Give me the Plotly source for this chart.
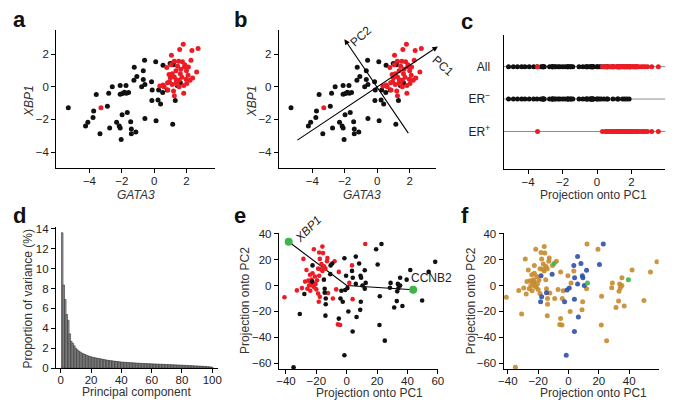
import numpy as np
import plotly.graph_objects as go

FONT = "Liberation Sans"
RED = "#ED1C24"
BLACK = "#111111"
ORANGE = "#C68A2E"
BLUE = "#2F4FA8"
GREEN = "#3DB54A"

# ---------- panel a/b data (GATA3, XBP1) ----------
erneg_gata3 = [-5.31, -4.24, -4.10, -3.78, -3.74, -3.58, -3.35, -2.89, -2.81, -2.75, -2.59, -2.32, -2.16, -2.10,
               -2.10, -2.10, -1.96, -1.84, -1.72, -1.58, -1.74, -1.98, -2.04, -1.66, -0.59, -1.23, -0.67, -1.07,
               -1.25, -0.67, -0.77, -0.57, -0.57, -1.45, -1.41, -1.13, -1.41, 0.10, 0.55, 0.99, 1.23, 1.18,
               -0.16, -0.12, 0.28, 0.53, 0.81, -0.14, 0.24, 0.40, 1.31, 1.62, 1.43, 0.12, 1.15]
erneg_xbp1 = [-1.29, -2.40, -2.18, -1.88, -1.49, -0.48, -2.87, -1.19, -0.40, -2.52, 0.00, -2.18, -2.40, -2.52,
              0.08, -0.46, -0.42, -0.34, -0.40, -0.36, 0.08, -1.72, -3.23, -1.58, 1.62, 1.19, 0.97, 0.63,
              0.40, 0.44, 0.00, 0.14, -1.94, -2.14, -2.59, -2.77, -2.87, 1.52, 1.31, 1.42, 1.52, 1.35,
              0.30, -0.20, -0.20, -0.36, -0.20, -0.85, -0.81, -1.05, -0.85, 0.24, 0.08, -2.08, -2.30]
erpos_gata3 = [1.80, 1.58, 2.34, 2.72, 1.07, 1.25, 1.52, 1.75, 1.90, 2.28, 0.78, 1.12, 1.35, 1.65, 2.00, 1.88,
               2.12, 0.92, 1.00, 1.25, 1.37, 1.55, 1.72, 1.98, 2.22, 2.63, 2.38, 0.83, 1.12, 1.35, 1.42, 1.83,
               0.35, 0.62, 0.85, 1.20, 1.25, 1.83, 0.55, -3.29, 1.05, 1.62, 2.02, 1.45, 0.95, 1.55, 2.10]
erpos_xbp1 = [2.59, 2.28, 2.22, 2.34, 1.92, 1.55, 1.55, 1.52, 1.35, 1.62, 1.17, 0.80, 0.97, 1.07, 0.97, 1.22,
              1.20, 0.75, 0.55, 0.60, 0.43, 0.40, 0.58, 0.45, 0.40, 0.90, 0.54, 0.24, 0.14, 0.24, 0.16, 0.08,
              0.04, 0.00, -0.20, -0.26, -0.56, -0.40, 0.10, -1.29, 1.35, 0.80, 0.20, 1.25, 0.30, 0.00, 0.70]

# principal axes drawn in panel b (tail, head)
pc1_arrow_x = [-5.01, 3.74]
pc1_arrow_y = [-3.33, 2.46]
pc2_arrow_x = [1.98, -2.02]
pc2_arrow_y = [-2.93, 2.91]

# ---------- panel d ----------
variance_pct = [13.6, 8.35, 6.9, 5.4, 4.8, 3.45, 2.7, 2.5, 2.25, 2.0,
                1.85, 1.72, 1.62, 1.52, 1.45, 1.38, 1.32, 1.25, 1.2, 1.15,
                1.1, 1.07, 1.04, 1.01, 0.98, 0.95, 0.92, 0.89, 0.86, 0.83,
                0.8, 0.78, 0.76, 0.74, 0.72, 0.7, 0.68, 0.66, 0.64, 0.62,
                0.61, 0.6, 0.59, 0.58, 0.57, 0.56, 0.55, 0.54, 0.53, 0.52,
                0.51, 0.5, 0.49, 0.485, 0.48, 0.47, 0.46, 0.455, 0.45, 0.44,
                0.435, 0.43, 0.42, 0.415, 0.41, 0.4, 0.395, 0.39, 0.38, 0.375,
                0.37, 0.36, 0.355, 0.35, 0.34, 0.335, 0.33, 0.32, 0.31, 0.305,
                0.3, 0.29, 0.28, 0.275, 0.27, 0.26, 0.25, 0.24, 0.235, 0.23,
                0.22, 0.21, 0.2, 0.19, 0.18, 0.17, 0.16, 0.15, 0.13, 0.1]
components = list(range(1, len(variance_pct) + 1))

# ---------- panels e/f (projection onto PC1, PC2) ----------
# er: 1 = ER+, 0 = ER- ; subtype: L (luminal), B (basal), N (normal-like)
pc1_proj = [-41.0, -32.8, -28.5, -27.4, -25.9, -25.3, -24.2, -23.5, -22.5, -21.6, -21.4, -20.5, -22.7, -23.1,
            -18.1, -18.1, -17.7, -17.1, -16.6, -16.0, -16.0, -15.6, -14.9, -14.0, -12.7, -13.0, -18.8, -18.8,
            -17.7, -18.4, -12.3, -9.1, -6.9, -5.8, -4.3, -5.2, -8.0, 3.5, 1.7, 3.9, 12.2, -26.5, -24.8, -20.9,
            -29.5, -24.0, -19.5, -20.0,
            -35.0, -30.9, -27.9, -22.5, -10.8, -9.5, -10.6, -14.5, -14.5, -13.8, -13.8, -14.0, -4.1, -3.5,
            -1.0, 0.5, -2.6, -5.2, -1.5, -0.4, 1.1, 3.9, 6.0, 8.2, 3.5, 9.1, 9.5, 6.0, 10.4, 11.9, 9.3, 8.9,
            6.5, 21.6, 25.1, 21.8, 28.9, 28.5, 33.7, 34.1, 33.3, 35.2, 33.0, 31.3, 36.7, 35.2, 41.9, 39.5,
            49.7, 54.0, 58.3, 19.4, 22.9, 20.4, 11.9, 12.5, -15.0, -22.7, 4.0, -1.5]
pc2_proj = [-9.0, -3.75, 20.5, 3.0, -2.5, 3.75, 8.25, 2.5, 9.5, 28.0, -1.25, 1.25, 0.0, 4.5,
            25.5, 7.5, 20.5, 12.5, 16.5, 11.25, 30.0, 25.0, 14.75, 13.0, 21.25, 18.75, 13.0, -6.25,
            -8.75, -12.5, -5.75, -10.0, -3.0, -30.0, -30.5, 10.5, 18.75, 15.5, 2.0, -10.5, 32.0, 12.0, 0.0, 7.0,
            -2.0, -4.0, 4.0, -3.0,
            -63.0, -22.0, -6.5, 15.5, 8.75, 17.0, 15.5, -2.5, -5.5, -10.0, -14.5, -23.25, -10.0, -4.0,
            -3.5, -2.0, -12.5, -25.5, -53.75, 7.5, -20.0, -35.5, 22.3, 17.0, 11.25, 7.5, 6.0, 1.25, 0.0, -2.5,
            -12.5, -18.75, -24.25, -30.5, -42.5, -8.25, 2.0, -1.75, 1.25, -2.0, -4.5, 0.0, -12.0, -17.0,
            -15.75, 6.0, 12.0, 4.5, -11.5, 10.5, 18.25, 28.0, 32.0, 16.25, 11.75, 2.0, 4.5, 3.0, 6.0, 21.0]
er_status = [1] * 48 + [0] * 60
subtype = list("LLLLLLLLLLLLLLLBLLLLLLLLLLLLBBLLLLLLLBLBLLLLLLLL"
               "LLLLBNLLBLLLLLBBBLBLLBBBLBBBBLLLBLLLLLLLLLLLLLLNLLLLBBBNLLB")

# loading vectors shown in panel e
loading_names = ["XBP1", "CCNB2"]
loading_pc1 = [-38.2, 43.8]
loading_pc2 = [33.75, -3.25]

# ---------------------------------------------------------------
W, H = 685, 408


def xd(x0, x1):
    return [x0 / W, x1 / W]


def yd(y0, y1):
    return [1 - y1 / H, 1 - y0 / H]


def axis(domain, rng, anchor, tickvals=None, **kw):
    d = dict(domain=domain, range=rng, anchor=anchor, showline=True, linecolor="black", linewidth=1,
             ticks="outside", ticklen=4, tickwidth=1, tickcolor="black", showgrid=False, zeroline=False,
             tickfont=dict(family=FONT, size=11.5, color="#222"), fixedrange=True)
    if tickvals is not None:
        d["tickvals"] = tickvals
    d.update(kw)
    return d


fig = go.Figure()

mk = dict(size=5)
# panel a
fig.add_trace(go.Scatter(x=erneg_gata3, y=erneg_xbp1, mode="markers", marker=dict(color=BLACK, **mk),
                         xaxis="x", yaxis="y"))
fig.add_trace(go.Scatter(x=erpos_gata3, y=erpos_xbp1, mode="markers", marker=dict(color=RED, **mk),
                         xaxis="x", yaxis="y"))
# panel b
fig.add_trace(go.Scatter(x=erneg_gata3, y=erneg_xbp1, mode="markers", marker=dict(color=BLACK, **mk),
                         xaxis="x2", yaxis="y2"))
fig.add_trace(go.Scatter(x=erpos_gata3, y=erpos_xbp1, mode="markers", marker=dict(color=RED, **mk),
                         xaxis="x2", yaxis="y2"))

# panel c : projection onto PC1 direction
u = np.array([pc1_arrow_x[1] - pc1_arrow_x[0], pc1_arrow_y[1] - pc1_arrow_y[0]])
u = u / np.linalg.norm(u)
proj_neg = np.array(erneg_gata3) * u[0] + np.array(erneg_xbp1) * u[1]
proj_pos = np.array(erpos_gata3) * u[0] + np.array(erpos_xbp1) * u[1]
row_all, row_neg, row_pos = 3, 2, 1
fig.add_trace(go.Scatter(x=proj_neg, y=[row_all] * len(proj_neg), mode="markers",
                         marker=dict(color=BLACK, **mk), xaxis="x3", yaxis="y3"))
fig.add_trace(go.Scatter(x=proj_pos, y=[row_all] * len(proj_pos), mode="markers",
                         marker=dict(color=RED, **mk), xaxis="x3", yaxis="y3"))
fig.add_trace(go.Scatter(x=proj_neg, y=[row_neg] * len(proj_neg), mode="markers",
                         marker=dict(color=BLACK, **mk), xaxis="x3", yaxis="y3"))
fig.add_trace(go.Scatter(x=proj_pos, y=[row_pos] * len(proj_pos), mode="markers",
                         marker=dict(color=RED, **mk), xaxis="x3", yaxis="y3"))

# panel d
fig.add_trace(go.Bar(x=components, y=variance_pct,
                     marker=dict(color="#a0a0a0", line=dict(color="#2a2a2a", width=0.6)),
                     width=1, xaxis="x4", yaxis="y4"))

# panel e
er_col = [RED if e else BLACK for e in er_status]
fig.add_trace(go.Scatter(x=[loading_pc1[0], 0, loading_pc1[1]], y=[loading_pc2[0], 0, loading_pc2[1]],
                         mode="lines", line=dict(color="black", width=1.1), xaxis="x5", yaxis="y5"))
fig.add_trace(go.Scatter(x=pc1_proj, y=pc2_proj, mode="markers", marker=dict(color=er_col, size=4.6),
                         xaxis="x5", yaxis="y5"))
fig.add_trace(go.Scatter(x=loading_pc1, y=loading_pc2, mode="markers", marker=dict(color=GREEN, size=8),
                         xaxis="x5", yaxis="y5", cliponaxis=False))

# panel f
sub_col = {"L": ORANGE, "B": BLUE, "N": GREEN}
order = sorted(range(len(subtype)), key=lambda i: {"L": 0, "B": 1, "N": 2}[subtype[i]])
fig.add_trace(go.Scatter(x=[pc1_proj[i] for i in order], y=[pc2_proj[i] for i in order], mode="markers",
                         marker=dict(color=[sub_col[subtype[i]] for i in order], size=5, opacity=0.9),
                         xaxis="x6", yaxis="y6"))

lay = dict(
    width=W, height=H, margin=dict(l=0, r=0, t=0, b=0), paper_bgcolor="white", plot_bgcolor="white",
    showlegend=False, bargap=0, hovermode=False,
    xaxis=axis(xd(52, 213), [-6.06, 3.74], "y", [-4, -2, 0, 2], ticklabelstandoff=-2),
    yaxis=axis(yd(26, 168), [-5.0, 3.45], "x", [-4, -2, 0, 2]),
    xaxis2=axis(xd(278.3, 438.3), [-6.06, 3.64], "y2", [-4, -2, 0, 2], ticklabelstandoff=-2),
    yaxis2=axis(yd(26, 168), [-5.0, 3.45], "x2", [-4, -2, 0, 2]),
    xaxis3=axis(xd(506.7, 671), [-5.43, 3.96], "y3", [-4, -2, 0, 2], ticklabelstandoff=-2),
    yaxis3=axis(yd(30.7, 168.3), [-0.15, 3.98], "x3", [3, 2, 1],
                ticktext=["All", "ER<sup>−</sup>", "ER<sup>+</sup>"], ticks="", ticklabelstandoff=10,
                tickfont=dict(family=FONT, size=12, color="#222")),
    xaxis4=axis(xd(51.7, 216.7), [-3.2, 103.9], "y4", [0, 20, 40, 60, 80, 100], ticklabelstandoff=-3),
    yaxis4=axis(yd(228.3, 373.3), [0, 14.16], "x4", [0, 2, 4, 6, 8, 10, 12, 14]),
    xaxis5=axis(xd(278.3, 440), [-44.7, 60.1], "y5", [-40, -20, 0, 20, 40, 60], ticklabelstandoff=-3),
    yaxis5=axis(yd(234.3, 374), [-64.3, 40.5], "x5", [-60, -40, -20, 0, 20, 40]),
    xaxis6=axis(xd(506.7, 664.3), [-42.8, 59.4], "y6", [-40, -20, 0, 20, 40, 60], ticklabelstandoff=-3),
    yaxis6=axis(yd(234.3, 374), [-64.3, 40.5], "x6", [-60, -40, -20, 0, 20, 40]),
)
fig.update_layout(**lay)

# horizontal guide lines in panel c
for r in (row_all, row_neg, row_pos):
    fig.add_shape(type="line", xref="x3 domain", yref="y3", x0=0, x1=1, y0=r, y1=r,
                  line=dict(color="#8c8c8c", width=1), layer="below")

ann = []


def ptext(text, px, py, angle=0, size=12, color="#333"):
    ann.append(dict(x=px / W, y=1 - py / H, xref="paper", yref="paper", text=text, textangle=angle,
                    showarrow=False, xanchor="center", yanchor="middle",
                    font=dict(family=FONT, size=size, color=color)))


# axis titles
ptext("<i>GATA3</i>", 133, 195)
ptext("<i>XBP1</i>", 25, 99, -90)
ptext("<i>GATA3</i>", 363, 195)
ptext("<i>XBP1</i>", 251, 99, -90)
ptext("Projection onto PC1", 598, 195)
ptext("Principal component", 134, 398)
ptext("Proportion of variance (%)", 23, 302, -90)
ptext("Projection onto PC1", 370, 399)
ptext("Projection onto PC2", 244, 304, -90)
ptext("Projection onto PC1", 598, 399)
ptext("Projection onto PC2", 473, 304, -90)

# arrows in b
for ax_, ay_ in ((pc1_arrow_x, pc1_arrow_y), (pc2_arrow_x, pc2_arrow_y)):
    ann.append(dict(x=ax_[1], y=ay_[1], ax=ax_[0], ay=ay_[0], xref="x2", yref="y2", axref="x2", ayref="y2",
                    showarrow=True, arrowhead=2, arrowsize=1, arrowwidth=1.1, arrowcolor="black", text=""))
ptext("PC2", 362, 32, -42, 12, "#222")
ptext("PC1", 445, 63, 42, 12, "#222")
# loading labels in e
ptext("<i>XBP1</i>", 308, 230, -45, 12, "#222")
ann.append(dict(x=loading_pc1[1] - 3, y=loading_pc2[1] + 2, xref="x5", yref="y5", text="CCNB2",
                showarrow=False, xanchor="left", yanchor="bottom", font=dict(family=FONT, size=12, color="#222")))
# panel letters
for letter, px, py in (("a", 6, 0), ("b", 231, 0), ("c", 461, 2), ("d", 6, 201), ("e", 231, 201), ("f", 461, 201)):
    ann.append(dict(x=px / W, y=1 - py / H, xref="paper", yref="paper", text="<b>%s</b>" % letter,
                    showarrow=False, xanchor="left", yanchor="top", font=dict(family=FONT, size=22, color="#111")))
fig.update_layout(annotations=ann)

fig.write_html("out.html", config={"displayModeBar": False, "staticPlot": True},
               post_script="document.body.style.margin='0px';document.body.style.overflow='hidden';")
